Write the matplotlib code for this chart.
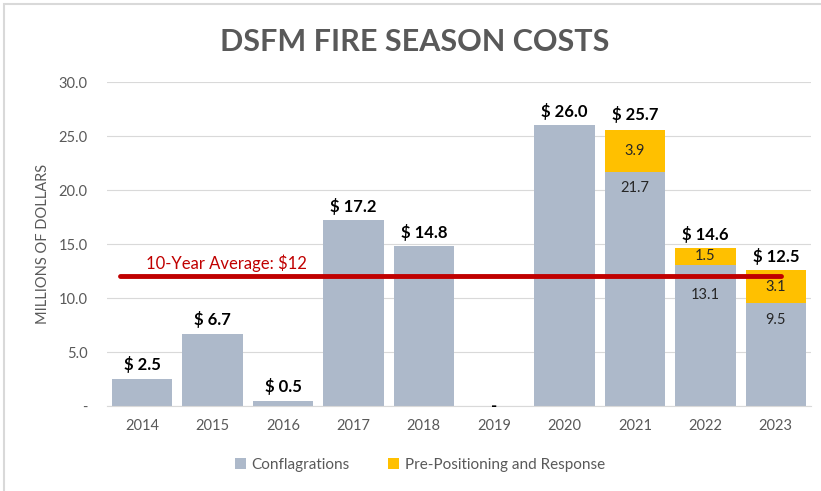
import matplotlib
matplotlib.use("Agg")
import matplotlib.pyplot as plt
from matplotlib.patches import Rectangle, Patch
import numpy as np

plt.rcParams['font.family'] = ['Lato', 'DejaVu Sans']

years = ["2014", "2015", "2016", "2017", "2018", "2019", "2020", "2021", "2022", "2023"]
conflagrations = [2.5, 6.7, 0.5, 17.2, 14.8, 0.0, 26.0, 21.7, 13.1, 9.5]
prepositioning = [0.0, 0.0, 0.0, 0.0, 0.0, 0.0, 0.0, 3.9, 1.5, 3.1]
totals = [2.5, 6.7, 0.5, 17.2, 14.8, 0.0, 26.0, 25.7, 14.6, 12.5]
average = 12
yticks = [0, 5, 10, 15, 20, 25, 30]
ytick_labels = ["-", "5.0", "10.0", "15.0", "20.0", "25.0", "30.0"]

GRAY = "#ADB9CA"
GOLD = "#FFC000"
RED = "#C00000"
TXT = "#595959"

# pixel offsets (points) of the lower segment labels below the segment top
seg_label_offset = {7: -7, 8: -17, 9: -7}

fig = plt.figure(figsize=(8.21, 4.91), dpi=100)
fig.patches.append(Rectangle((4/821, -0.01), 1.0, 1 - 4/491 + 0.01, transform=fig.transFigure,
                             fill=False, edgecolor="#D9D9D9", linewidth=1.5))

ax = fig.add_axes([107/821, 1 - 406/491, (811 - 107)/821, (406 - 82)/491])
x = np.arange(len(years))
w = 0.86
ax.bar(x, conflagrations, width=w, color=GRAY, zorder=2, label="Conflagrations")
ax.bar(x, prepositioning, width=w, bottom=conflagrations, color=GOLD, zorder=2,
       label="Pre-Positioning and Response")

ax.set_xlim(-0.5, len(years) - 0.5)
ax.set_ylim(0, 30)
ax.set_yticks(yticks)
ax.set_yticklabels(ytick_labels)
ax.set_xticks(x)
ax.set_xticklabels(years)
ax.tick_params(axis="both", length=0, labelsize=10.5, colors=TXT)
ax.tick_params(axis="y", pad=14)
ax.tick_params(axis="x", pad=9)
ax.grid(axis="y", color="#D9D9D9", linewidth=0.8, zorder=0)
for s in ["top", "right", "left"]:
    ax.spines[s].set_visible(False)
ax.spines["bottom"].set_color("#D9D9D9")
ax.set_ylabel("MILLIONS OF DOLLARS", fontsize=10.5, color=TXT, labelpad=6)

for i, t in enumerate(totals):
    if t == 0:
        ax.text(i, 0, "-", ha="center", va="center", fontsize=12, fontweight="bold", color="black")
    else:
        ax.annotate(f"$ {t:.1f}", (i, t), xytext=(0, 4), textcoords="offset points",
                    ha="center", va="bottom", fontsize=12, fontweight="bold", color="black")

for i, (c, p) in enumerate(zip(conflagrations, prepositioning)):
    if p > 0:
        ax.text(i, c + p / 2, f"{p:.1f}", ha="center", va="center", fontsize=10.5, color="#262626", zorder=3)
        ax.annotate(f"{c:.1f}", (i, c), xytext=(0, seg_label_offset.get(i, -7)), textcoords="offset points",
                    ha="center", va="top", fontsize=10.5, color="#262626", zorder=3)

ax.plot([-0.31, 9.08], [average, average], color=RED, linewidth=3.5, solid_capstyle="round", zorder=4)
ax.annotate(f"10-Year Average: ${average}", (0.05, average), xytext=(0, 3), textcoords="offset points",
            ha="left", va="bottom", fontsize=12, color=RED, zorder=5)

fig.text(415/821, 1 - 42/491, "DSFM FIRE SEASON COSTS", ha="center", va="center",
         fontsize=22, fontweight="bold", color=TXT)

handles = [Patch(facecolor=GRAY), Patch(facecolor=GOLD)]
fig.legend(handles, ["Conflagrations", "Pre-Positioning and Response"], loc="center",
           bbox_to_anchor=(420/821, 1 - 465/491), ncol=2, frameon=False, fontsize=11,
           labelcolor=TXT, handlelength=0.7, handleheight=0.7, columnspacing=2.5, handletextpad=0.4)

fig.savefig("out.png", dpi=100)
